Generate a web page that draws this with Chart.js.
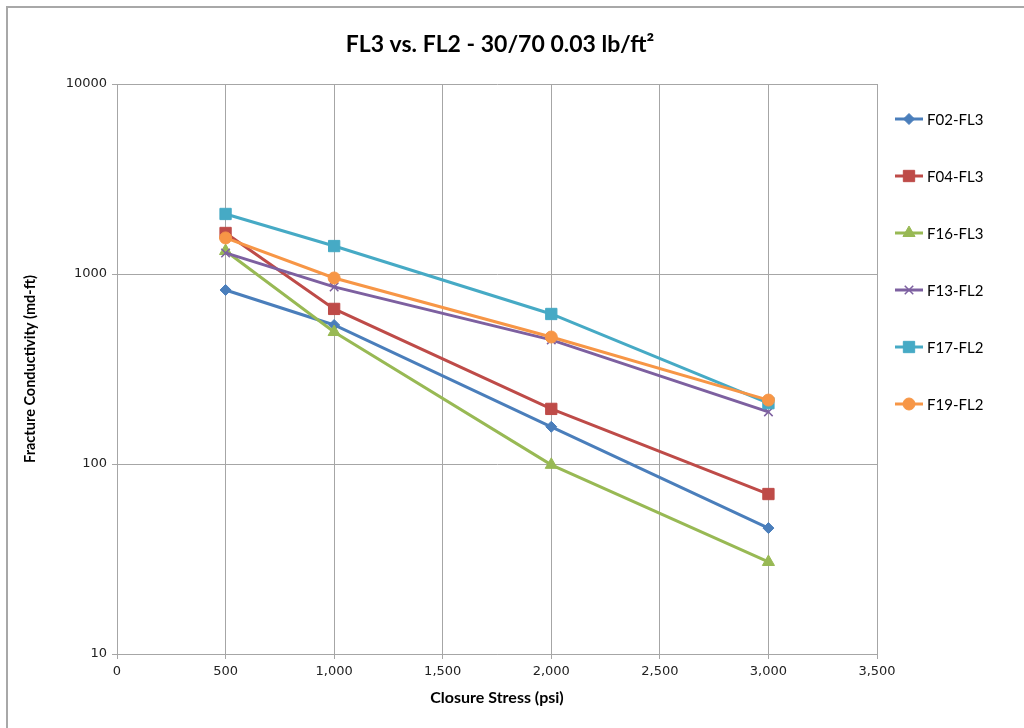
<!DOCTYPE html>
<html>
<head>
<meta charset="utf-8">
<script src="https://cdn.jsdelivr.net/npm/chart.js"></script>
<style>
  html, body { margin: 0; padding: 0; background: #fff; }
  #wrap { width: 1024px; height: 728px; position: relative; }
</style>
</head>
<body>
<div id="wrap"><canvas id="myChart" width="1024" height="728"></canvas></div>
<script>
'use strict';
// closure stress (psi)
const stress = [500, 1000, 2000, 3000];
const names = ['F02-FL3', 'F04-FL3', 'F16-FL3', 'F13-FL2', 'F17-FL2', 'F19-FL2'];
const f02 = [824, 539, 157, 46];
const f04 = [1644, 655, 195, 69.5];
const f16 = [1321, 495, 99, 30.5];
const f13 = [1291, 855, 450, 188];
const f17 = [2070, 1403, 616, 209];
const f19 = [1548, 953, 466, 217];
const yTicks = [10, 100, 1000, 10000];
const xTicks = [0, 500, 1000, 1500, 2000, 2500, 3000, 3500];

const colors = ['#4A7EBB', '#BE4B48', '#98B954', '#7D60A0', '#46AAC5', '#F79646'];
const markers = ['rectRot', 'rect', 'triangle', 'crossRot', 'rect', 'circle'];
const sizes = [5.5, 8, 7, 6, 8, 6];
const values = [f02, f04, f16, f13, f17, f19];

const datasets = [];
for (let i = 0; i < names.length; i++) {
    datasets.push({
        label: names[i],
        data: stress.map((s, j) => ({ x: s, y: values[i][j] })),
        borderColor: colors[i],
        backgroundColor: colors[i],
        borderWidth: 3,
        pointStyle: markers[i],
        pointRadius: sizes[i],
        pointHoverRadius: sizes[i],
        pointBorderWidth: markers[i] === 'crossRot' ? 1.5 : 1,
        pointBorderColor: colors[i],
        pointBackgroundColor: colors[i],
        tension: 0,
        order: names.length - i
    });
}

const gridColor = '#a6a6a6';
const tickFont = { family: 'DejaVu Sans', size: 13 };

// frame lines at top and left like the original sheet
const frame = {
    id: 'frame',
    beforeDraw(chart) {
        const ctx = chart.ctx;
        ctx.save();
        ctx.strokeStyle = '#a8a8a8';
        ctx.lineWidth = 2;
        ctx.beginPath();
        ctx.moveTo(7, 728);
        ctx.lineTo(7, 7);
        ctx.lineTo(1024, 7);
        ctx.stroke();
        ctx.restore();
    }
};

// legend with line + marker
const sideLegend = {
    id: 'sideLegend',
    afterDraw(chart) {
        const ctx = chart.ctx;
        ctx.save();
        chart.data.datasets.forEach((ds, i) => {
            const y = 119 + 57 * i;
            ctx.strokeStyle = ds.borderColor;
            ctx.lineWidth = 3;
            ctx.beginPath();
            ctx.moveTo(895, y);
            ctx.lineTo(923, y);
            ctx.stroke();
            ctx.lineWidth = ds.pointBorderWidth;
            ctx.fillStyle = ds.backgroundColor;
            Chart.helpers.drawPoint(ctx, {
                pointStyle: ds.pointStyle,
                radius: ds.pointRadius,
                rotation: 0,
                borderWidth: ds.pointBorderWidth
            }, 909, y);
            ctx.fillStyle = '#000';
            ctx.font = '15px Lato';
            ctx.textBaseline = 'middle';
            ctx.textAlign = 'left';
            ctx.fillText(ds.label, 927, y + 1);
        });
        ctx.restore();
    }
};

const context = document.getElementById('myChart').getContext('2d');
const chart = new Chart(context, {
    type: 'line',
    data: { datasets: datasets },
    options: {
        responsive: false,
        animation: false,
        layout: { padding: { right: 24, left: 0, top: 0, bottom: 0 } },
        plugins: {
            legend: { display: false },
            tooltip: { enabled: false },
            title: {
                display: true,
                text: 'FL3 vs. FL2 - 30/70 0.03 lb/ft²',
                color: '#000',
                font: { family: 'Lato', size: 23, weight: 'bold', lineHeight: 1.2 },
                padding: { top: 31, bottom: 25.4 }
            }
        },
        scales: {
            x: {
                type: 'linear',
                min: 0,
                max: 3500,
                afterBuildTicks: s => { s.ticks = xTicks.map(v => ({ value: v })); },
                afterFit: s => { s.height = 74; },
                grid: { color: gridColor, tickLength: 5 },
                border: { color: gridColor },
                ticks: {
                    font: tickFont,
                    color: '#222',
                    padding: 5,
                    maxRotation: 0,
                    callback: v => v.toLocaleString('en-US')
                },
                title: {
                    display: true,
                    text: 'Closure Stress (psi)',
                    color: '#000',
                    font: { family: 'Lato', size: 16, weight: 'bold', lineHeight: 1.2 },
                    padding: { top: 0, bottom: 21 }
                }
            },
            y: {
                type: 'logarithmic',
                min: 10,
                max: 10000,
                afterBuildTicks: s => { s.ticks = yTicks.map(v => ({ value: v })); },
                afterFit: s => { s.width = 117; },
                grid: { color: gridColor, tickLength: 5 },
                border: { color: gridColor },
                ticks: {
                    font: tickFont,
                    color: '#222',
                    padding: 5,
                    callback: v => String(v)
                },
                title: {
                    display: true,
                    text: 'Fracture Conductivity (md-ft)',
                    color: '#000',
                    font: { family: 'Lato', size: 14.5, weight: 'bold', lineHeight: 1.2 },
                    padding: { top: 22, bottom: 0 }
                }
            },
            y2: {
                type: 'linear',
                position: 'right',
                display: true,
                grid: { display: false, drawTicks: false },
                border: { display: false },
                ticks: { display: false },
                afterFit: s => { s.width = 123; }
            }
        }
    },
    plugins: [frame, sideLegend]
});
</script>
</body>
</html>
